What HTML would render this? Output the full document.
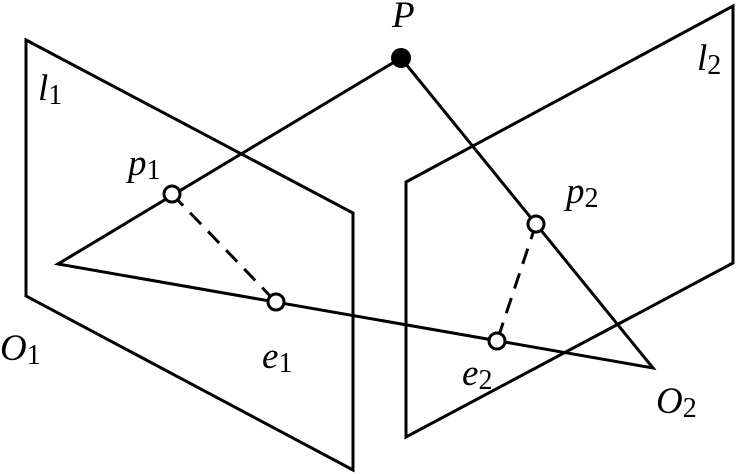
<!DOCTYPE html>
<html><head><style>body{margin:0;background:#fff}svg{display:block}text{font-family:"Liberation Serif","Times New Roman","DejaVu Serif",serif;font-style:italic;fill:#000}</style></head>
<body>
<svg width="736" height="474" viewBox="0 0 736 474">
<g fill="none" stroke="#000" stroke-width="3" stroke-linejoin="miter">
<polygon points="26,40 353,213 353,470 26,296"/>
<polygon points="406,182 733,6 733,263 406,437"/>
<polyline points="401,58 58,264 653,368 401,58"/>
<line x1="172" y1="194" x2="276" y2="302" stroke-dasharray="16,10"/>
<line x1="536" y1="224" x2="497" y2="341" stroke-dasharray="16,10"/>
<circle cx="172" cy="194" r="8" fill="#fff"/>
<circle cx="276" cy="302" r="8" fill="#fff"/>
<circle cx="536" cy="224" r="8" fill="#fff"/>
<circle cx="497" cy="341" r="8" fill="#fff"/>
</g>
<circle cx="401" cy="58" r="10" fill="#000"/>
<g font-size="37">
<text x="392" y="27">P</text>
<text x="38" y="100">l<tspan font-style="normal" font-size="28" dy="4">1</tspan></text>
<text x="697" y="70">l<tspan font-style="normal" font-size="28" dy="4">2</tspan></text>
<text x="128" y="175">p<tspan font-style="normal" font-size="28" dy="4">1</tspan></text>
<text x="566" y="203">p<tspan font-style="normal" font-size="28" dy="4">2</tspan></text>
<text x="262" y="368">e<tspan font-style="normal" font-size="28" dy="4">1</tspan></text>
<text x="462" y="385">e<tspan font-style="normal" font-size="28" dy="4">2</tspan></text>
<text x="0" y="360">O<tspan font-style="normal" font-size="28" dy="4">1</tspan></text>
<text x="656" y="413">O<tspan font-style="normal" font-size="28" dy="4">2</tspan></text>
</g>
</svg>
</body></html>
